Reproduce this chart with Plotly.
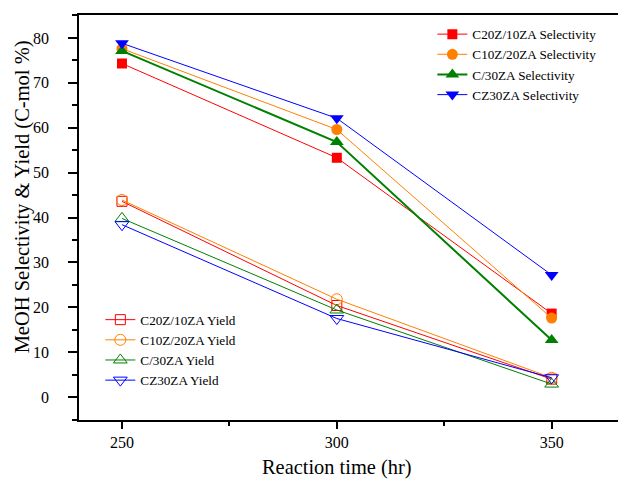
import plotly.graph_objects as go

time_hr = [250, 300, 350]
series_names = ["C20Z/10ZA", "C10Z/20ZA", "C/30ZA", "CZ30ZA"]
selectivity = {
    "C20Z/10ZA": [74.3, 53.3, 18.6],
    "C10Z/20ZA": [77.6, 59.6, 17.6],
    "C/30ZA": [77.1, 56.8, 12.7],
    "CZ30ZA": [78.8, 62.1, 27.2],
}
yield_vals = {
    "C20Z/10ZA": [43.6, 20.4, 4.0],
    "C10Z/20ZA": [43.9, 21.8, 4.3],
    "C/30ZA": [39.8, 19.4, 2.9],
    "CZ30ZA": [38.4, 17.5, 4.3],
}
x_title = "Reaction time (hr)"
y_title = "MeOH Selectivity & Yield (C-mol %)"
colors = {"C20Z/10ZA": "#FF0000", "C10Z/20ZA": "#FF8000", "C/30ZA": "#008000", "CZ30ZA": "#0000FF"}
sel_symbols = {"C20Z/10ZA": "square", "C10Z/20ZA": "circle", "C/30ZA": "triangle-up", "CZ30ZA": "triangle-down"}
sel_sizes = {"C20Z/10ZA": 10, "C10Z/20ZA": 11, "C/30ZA": 12, "CZ30ZA": 12}
sel_widths = {"C20Z/10ZA": 1, "C10Z/20ZA": 1, "C/30ZA": 2, "CZ30ZA": 1}

fig = go.Figure()
for n in series_names:
    fig.add_trace(go.Scatter(
        x=time_hr, y=selectivity[n], mode="lines+markers", name=f"{n} Selectivity",
        line=dict(color=colors[n], width=sel_widths[n]),
        marker=dict(symbol=sel_symbols[n], size=sel_sizes[n], color=colors[n]),
        legend="legend",
    ))
for n in series_names:
    fig.add_trace(go.Scatter(
        x=time_hr, y=yield_vals[n], mode="lines+markers", name=f"{n} Yield",
        line=dict(color=colors[n], width=1),
        marker=dict(symbol=sel_symbols[n] + "-open", size=sel_sizes[n], color=colors[n], line=dict(width=1)),
        legend="legend2",
    ))

font_family = "Liberation Serif"
fig.update_layout(
    width=618, height=476,
    margin=dict(l=71, r=0, t=7, b=64),
    plot_bgcolor="white", paper_bgcolor="white",
    font=dict(family=font_family, color="black", size=16),
    legend=dict(x=0.646, y=0.99, xanchor="left", yanchor="top", bgcolor="rgba(0,0,0,0)",
                font=dict(size=13.2, family=font_family), tracegroupgap=0, itemwidth=30),
    legend2=dict(x=0.039, y=0.285, xanchor="left", yanchor="top", bgcolor="rgba(0,0,0,0)",
                 font=dict(size=13.2, family=font_family), tracegroupgap=0, itemwidth=30),
    xaxis=dict(
        range=[240, 367.3], tickvals=[250, 300, 350], showgrid=False, zeroline=False,
        showline=True, linecolor="black", linewidth=1.5, mirror=True, automargin=False,
        ticks="outside", ticklen=7, tickwidth=1.5, tickcolor="black",
        minor=dict(tickvals=[275, 325], ticks="outside", ticklen=4, tickwidth=1.5, tickcolor="black"),
        ticklabelstandoff=0, tickfont=dict(size=16, family=font_family),
    ),
    yaxis=dict(
        range=[-5.1, 85.1], tickvals=[0, 10, 20, 30, 40, 50, 60, 70, 80], showgrid=False, zeroline=False,
        showline=True, linecolor="black", linewidth=1.5, automargin=False,
        ticks="outside", ticklen=9, tickwidth=1.5, tickcolor="black",
        minor=dict(dtick=5, ticks="outside", ticklen=5, tickwidth=1.5, tickcolor="black"),
        ticklabelstandoff=16, tickfont=dict(size=16, family=font_family),
    ),
    annotations=[
        dict(text=x_title, xref="x", x=300, yref="paper", y=-0.1185, xanchor="center", yanchor="middle",
             showarrow=False, font=dict(size=20.4, family=font_family)),
        dict(text=y_title, xref="paper", x=-0.104, yref="paper", y=0.55, xanchor="center", yanchor="middle",
             textangle=-90, showarrow=False, font=dict(size=20.5, family=font_family)),
    ],
)
fig.write_html("out.html")
